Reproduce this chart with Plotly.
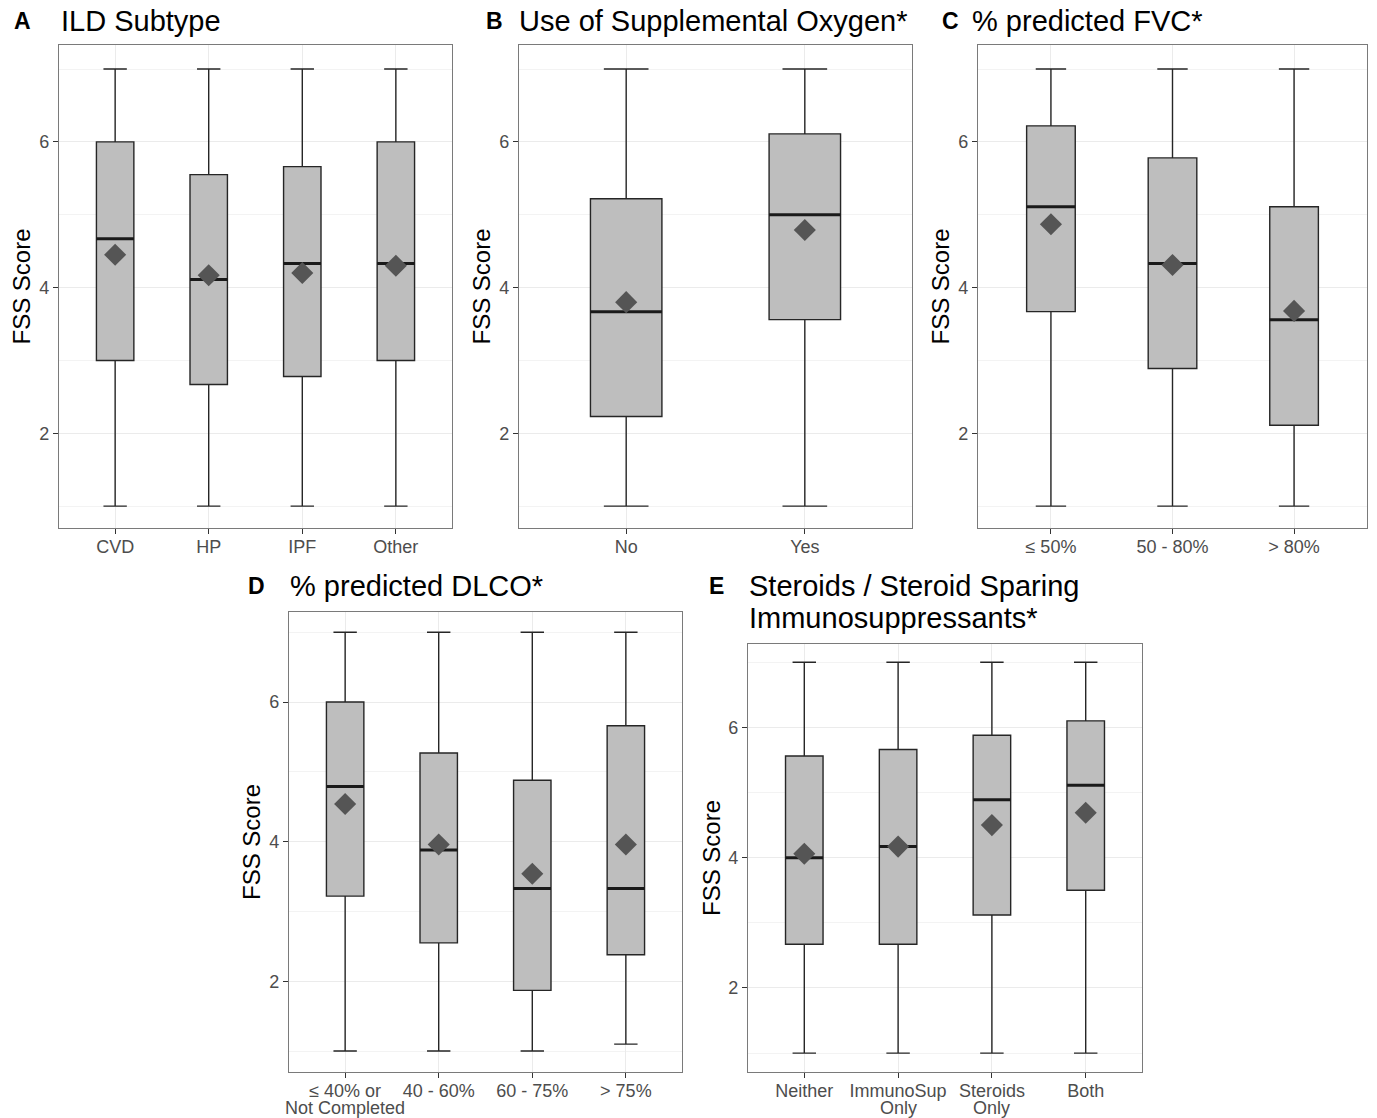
import plotly.graph_objects as go

W, H = 1377, 1118

# ---------------- data ----------------
A_cats = ["CVD", "HP", "IPF", "Other"]
A_lo = [1.0, 1.0, 1.0, 1.0]
A_q1 = [3.0, 2.67, 2.78, 3.0]
A_med = [4.67, 4.11, 4.33, 4.33]
A_q3 = [6.0, 5.55, 5.66, 6.0]
A_hi = [7.0, 7.0, 7.0, 7.0]
A_mean = [4.45, 4.17, 4.2, 4.3]

B_cats = ["No", "Yes"]
B_lo = [1.0, 1.0]
B_q1 = [2.23, 3.56]
B_med = [3.67, 5.0]
B_q3 = [5.22, 6.11]
B_hi = [7.0, 7.0]
B_mean = [3.8, 4.79]

C_cats = ["≤ 50%", "50 - 80%", "> 80%"]
C_lo = [1.0, 1.0, 1.0]
C_q1 = [3.67, 2.89, 2.11]
C_med = [5.11, 4.33, 3.56]
C_q3 = [6.22, 5.78, 5.11]
C_hi = [7.0, 7.0, 7.0]
C_mean = [4.87, 4.31, 3.68]

D_cats = ["≤ 40% or\nNot Completed", "40 - 60%", "60 - 75%", "> 75%"]
D_lo = [1.0, 1.0, 1.0, 1.1]
D_q1 = [3.22, 2.55, 1.87, 2.38]
D_med = [4.79, 3.88, 3.33, 3.33]
D_q3 = [6.0, 5.27, 4.88, 5.66]
D_hi = [7.0, 7.0, 7.0, 7.0]
D_mean = [4.54, 3.96, 3.54, 3.96]

E_cats = ["Neither", "ImmunoSup\nOnly", "Steroids\nOnly", "Both"]
E_lo = [1.0, 1.0, 1.0, 1.0]
E_q1 = [2.67, 2.67, 3.12, 3.5]
E_med = [4.0, 4.17, 4.89, 5.11]
E_q3 = [5.56, 5.66, 5.88, 6.1]
E_hi = [7.0, 7.0, 7.0, 7.0]
E_mean = [4.06, 4.17, 4.5, 4.69]

letters = ["A", "B", "C", "D", "E"]
titles = [["ILD Subtype"], ["Use of Supplemental Oxygen*"], ["% predicted FVC*"],
          ["% predicted DLCO*"], ["Steroids / Steroid Sparing", "Immunosuppressants*"]]
y_title = "FSS Score"
y_ticks = [2, 4, 6]

panels = [
    (A_cats, A_lo, A_q1, A_med, A_q3, A_hi, A_mean),
    (B_cats, B_lo, B_q1, B_med, B_q3, B_hi, B_mean),
    (C_cats, C_lo, C_q1, C_med, C_q3, C_hi, C_mean),
    (D_cats, D_lo, D_q1, D_med, D_q3, D_hi, D_mean),
    (E_cats, E_lo, E_q1, E_med, E_q3, E_hi, E_mean),
]

# ---------------- layout geometry (pixels) ----------------
boxes_px = [  # left, right, top, bottom
    (59, 452, 45, 528),
    (519, 912, 45, 528),
    (978, 1367, 45, 528),
    (289, 682, 612, 1072),
    (748, 1142, 644, 1072),
]
yranges = [[0.7, 7.33], [0.7, 7.33], [0.7, 7.33], [0.7, 7.29], [0.71, 7.28]]
letter_pos = [(12, 21), (484, 21), (940, 21), (246, 586), (707, 586)]
title_pos = [(59, 21), (517, 21), (970, 21), (288, 586), (747, 586)]
TITLE_LINE = 32
TICK_LINE2 = 36  # px below the axis for the second line of a tick label
ytitle_x = [21, 481, 940, 251, 711]

FONT = "Liberation Sans, Arial, Helvetica, sans-serif"
BOX_W = 0.4
TICK_FONT = dict(family=FONT, size=18, color="#4d4d4d")

fig = go.Figure()
layout = dict(
    width=W, height=H, margin=dict(l=0, r=0, t=0, b=0, autoexpand=False),
    paper_bgcolor="white", plot_bgcolor="white", showlegend=False,
    font=dict(family=FONT, color="#4d4d4d", size=18),
)
annotations = []

for k, (cats, lo, q1, med, q3, hi, mean) in enumerate(panels):
    n = k + 1
    xa = "x" if n == 1 else f"x{n}"
    ya = "y" if n == 1 else f"y{n}"
    xs = list(range(len(cats)))
    l, r, t, b = boxes_px[k]

    fig.add_trace(go.Box(
        x=xs, q1=q1, median=med, q3=q3, lowerfence=lo, upperfence=hi,
        width=BOX_W, whiskerwidth=0.625, boxpoints=False,
        fillcolor="#bebebe", line=dict(color="#262626", width=1.4),
        xaxis=xa, yaxis=ya, hoverinfo="skip",
    ))
    mx, my = [], []
    for i, m in zip(xs, med):
        mx += [i - BOX_W / 2, i + BOX_W / 2, None]
        my += [m, m, None]
    fig.add_trace(go.Scatter(
        x=mx, y=my, mode="lines", line=dict(color="#1a1a1a", width=3),
        xaxis=xa, yaxis=ya, hoverinfo="skip",
    ))
    fig.add_trace(go.Scatter(
        x=xs, y=mean, mode="markers",
        marker=dict(symbol="diamond", size=17, color="#555555", line=dict(width=0)),
        xaxis=xa, yaxis=ya, hoverinfo="skip",
    ))

    first_lines = [c.split("\n")[0] for c in cats]
    for i, c in zip(xs, cats):
        parts = c.split("\n")
        if len(parts) > 1:
            annotations.append(dict(
                text=parts[1], x=i, xref=xa, y=1 - (b + TICK_LINE2) / H, yref="paper",
                xanchor="center", yanchor="middle", showarrow=False, font=TICK_FONT,
            ))

    axis_common = dict(
        showline=True, mirror=True, linecolor="#7a7a7a", linewidth=1.2,
        ticks="outside", ticklen=5, tickwidth=1.2, tickcolor="#333333",
        showgrid=True, gridcolor="#ebebeb", gridwidth=1, zeroline=False,
        fixedrange=True, automargin=False,
    )
    layout["xaxis" if n == 1 else f"xaxis{n}"] = dict(
        axis_common, domain=[l / W, r / W], anchor=ya,
        range=[-0.6, len(cats) - 0.4], tickmode="array",
        tickvals=xs, ticktext=first_lines, tickangle=0, ticklabelstandoff=-3,
        tickfont=TICK_FONT,
    )
    layout["yaxis" if n == 1 else f"yaxis{n}"] = dict(
        axis_common, domain=[1 - b / H, 1 - t / H], anchor=xa,
        range=yranges[k], tickmode="array", tickvals=y_ticks,
        tickfont=TICK_FONT,
        minor=dict(tickvals=[1, 3, 5, 7], showgrid=True, gridcolor="#f3f3f3",
                   ticks=""),
    )

    lx, ly = letter_pos[k]
    annotations.append(dict(
        text=f"<b>{letters[k]}</b>", x=lx / W, y=1 - ly / H, xref="paper", yref="paper",
        xanchor="left", yanchor="middle", showarrow=False,
        font=dict(family=FONT, size=23, color="black"),
    ))
    tx, ty = title_pos[k]
    for j, line in enumerate(titles[k]):
        annotations.append(dict(
            text=line, x=tx / W, y=1 - (ty + j * TITLE_LINE) / H,
            xref="paper", yref="paper",
            xanchor="left", yanchor="middle", showarrow=False, align="left",
            font=dict(family=FONT, size=29, color="black"),
        ))
    annotations.append(dict(
        text=y_title, x=ytitle_x[k] / W, y=1 - ((t + b) / 2) / H,
        xref="paper", yref="paper", xanchor="center", yanchor="middle",
        textangle=-90, showarrow=False,
        font=dict(family=FONT, size=24, color="black"),
    ))

layout["annotations"] = annotations
fig.update_layout(**layout)
fig.write_html("out.html", config={"displayModeBar": False},
               post_script="document.body.style.margin='0';")
